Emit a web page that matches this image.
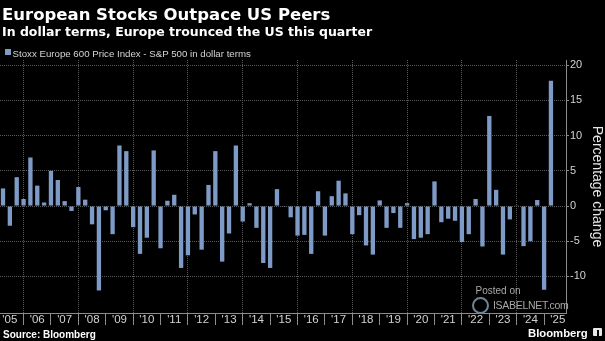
<!DOCTYPE html>
<html>
<head>
<meta charset="utf-8">
<script src="https://cdn.jsdelivr.net/npm/chart.js@4.4.1/dist/chart.umd.min.js"></script>
<style>
  html, body { margin: 0; padding: 0; background: #000; }
  #wrap { position: relative; width: 605px; height: 341px; overflow: hidden; background: #000; }
  #myChart { position: absolute; left: 0; top: 0; }
  .txt { position: absolute; white-space: nowrap; line-height: 1; }
  #title { left: 2px; top: 5px; color: #fff; font: bold 16.5px "DejaVu Sans"; }
  #subtitle { left: 2px; top: 24px; color: #fff; font: bold 12.5px "DejaVu Sans"; }
  #legendBox { position: absolute; left: 5px; top: 49px; width: 6px; height: 6px; background: #7e9bc7; }
  #legendText { left: 12.5px; top: 47.7px; color: #d4d4d4; font: 9.7px "Liberation Sans"; }
  #source { left: 3px; top: 328.8px; color: #fff; font: bold 10px "Liberation Sans"; }
  #brand { left: 528px; top: 326.6px; color: #fff; font: bold 11.3px "Liberation Sans"; }
  #brandIcon { position: absolute; left: 593px; top: 328px; width: 9px; height: 8px; background: #e8e8e8; border-radius: 1px; }
  #brandIcon div { position: absolute; left: 4px; top: 2px; width: 2px; height: 6px; background: #000; }
  #posted { left: 475.5px; top: 285px; color: #a8a8a8; font: 10px "Liberation Sans"; }
  #isabel { left: 493px; top: 299px; color: #a8a8a8; font: 10.5px "Liberation Sans"; letter-spacing: -0.3px; }
  #logo { position: absolute; left: 472px; top: 297px; width: 13px; height: 13px; border-radius: 50%; border: 2px solid #6f8596; }
</style>
</head>
<body>
<div id="wrap">
  <canvas id="myChart" width="605" height="341"></canvas>
  <div class="txt" id="title">European Stocks Outpace US Peers</div>
  <div class="txt" id="subtitle">In dollar terms, Europe trounced the US this quarter</div>
  <div id="legendBox"></div>
  <div class="txt" id="legendText"></div>
  <div class="txt" id="source">Source: Bloomberg</div>
  <div class="txt" id="brand">Bloomberg</div>
  <div id="brandIcon"><div></div></div>
  <div id="logo"></div>
  <div class="txt" id="posted">Posted on</div>
  <div class="txt" id="isabel">ISABELNET.com</div>
</div>
<script>
const firstYear = 2005;

// year labels on the x axis, one per calendar year
const years = ["'05", "'06", "'07", "'08", "'09", "'10", "'11", "'12", "'13", "'14",
    "'15", "'16", "'17", "'18", "'19", "'20", "'21", "'22", "'23", "'24", "'25"];

// quarterly relative performance, 2005 Q1 .. 2025 Q1 (percent)
const values = [
    2.5, -2.8, 4.1, 1.0,     // 2005
    6.9, 2.9, 0.5, 5.0,      // 2006
    3.7, 0.7, -0.7, 2.7,     // 2007
    0.9, -2.6, -12.0, -0.6,  // 2008
    -4.0, 8.6, 7.8, -3.0,    // 2009
    -6.8, -4.5, 7.9, -6.0,   // 2010
    0.75, 1.6, -8.8, -7.0,   // 2011
    -1.2, -6.2, 3.0, 7.8,    // 2012
    -7.9, -3.9, 8.6, -2.2,   // 2013
    0.4, -3.1, -8.1, -8.8,   // 2014
    2.4, -0.1, -1.6, -4.2,   // 2015
    -4.1, -6.8, 2.1, -4.2,   // 2016
    1.4, 3.6, 1.8, -4.0,     // 2017
    -1.3, -5.6, -6.9, 0.8,   // 2018
    -3.1, -1.0, -3.1, 0.4,   // 2019
    -4.7, -4.5, -4.0, 3.5,   // 2020
    -2.3, -1.8, -2.1, -5.1,  // 2021
    -4.0, 1.0, -5.75, 12.8,  // 2022
    2.3, -6.9, -1.9, 0.1,    // 2023
    -5.7, -5.0, 0.85, -11.9, // 2024
    17.8                     // 2025
];

const yTicks = [-10, -5, 0, 5, 10, 15, 20];
const seriesLabel = "Stoxx Europe 600 Price Index - S&P 500 in dollar terms";

document.getElementById("legendText").textContent = seriesLabel;

// each bar sits at its quarter end
const points = values.map((v, i) => ({ x: firstYear + (i + 1) / 4, y: v }));

const axisGrey = "#8c8c8c";
const tickText = "#d2d2d2";

const ctx = document.getElementById("myChart").getContext("2d");
new window.Chart(ctx, {
    type: "bar",
    data: {
        datasets: [
            {
                label: seriesLabel,
                data: points,
                backgroundColor: "#7e9bc7",
                borderWidth: 0,
                barPercentage: 0.63,
                categoryPercentage: 1,
            },
        ],
    },
    options: {
        responsive: false,
        animation: false,
        layout: { padding: { top: 60, bottom: 14, left: 0, right: 0 } },
        plugins: {
            legend: { display: false },
            tooltip: { enabled: false },
        },
        scales: {
            x: {
                type: "linear",
                offset: false,
                min: 2005.14,
                max: 2025.8,
                afterBuildTicks: (scale) => {
                    const t = [];
                    years.forEach((lab, i) => {
                        const y = firstYear + i;
                        t.push({ value: y + 0.5 }); // label in middle of the year
                        if (y + 1 < scale.max) t.push({ value: y + 1 }); // year boundary
                    });
                    scale.ticks = t;
                },
                afterFit: (scale) => {
                    scale.height = 14;
                },
                grid: {
                    offset: false,
                    lineWidth: 1,
                    tickLength: 12,
                    color: (c) => {
                        const v = c.tick ? c.tick.value : 0.5;
                        return Number.isInteger(v) && v % 2 === 0 ? "#5a5a5a" : "rgba(0,0,0,0)";
                    },
                    tickColor: (c) => {
                        const v = c.tick ? c.tick.value : 0.5;
                        return Number.isInteger(v) ? axisGrey : "rgba(0,0,0,0)";
                    },
                },
                border: { color: axisGrey, width: 1, dash: [1, 1] },
                ticks: {
                    autoSkip: false,
                    maxRotation: 0,
                    minRotation: 0,
                    padding: -12,
                    color: tickText,
                    font: { family: "Liberation Sans", size: 11.5 },
                    callback: (v) => (Number.isInteger(v) ? "" : years[Math.floor(v) - firstYear]),
                },
            },
            y: {
                position: "right",
                min: -15.2,
                max: 20.75,
                afterBuildTicks: (scale) => {
                    scale.ticks = yTicks.map((v) => ({ value: v }));
                },
                afterFit: (scale) => {
                    scale.width = 39;
                },
                grid: {
                    color: "#5a5a5a",
                    tickColor: axisGrey,
                    tickLength: 3,
                },
                border: { color: axisGrey, width: 1, dash: [1, 1] },
                ticks: {
                    padding: 1,
                    color: tickText,
                    font: { family: "Liberation Sans", size: 11 },
                },
                title: {
                    display: true,
                    text: "Percentage change",
                    color: "#e6e6e6",
                    padding: 0,
                    font: { family: "Liberation Sans", size: 14 },
                },
            },
        },
    },
});
</script>
</body>
</html>
